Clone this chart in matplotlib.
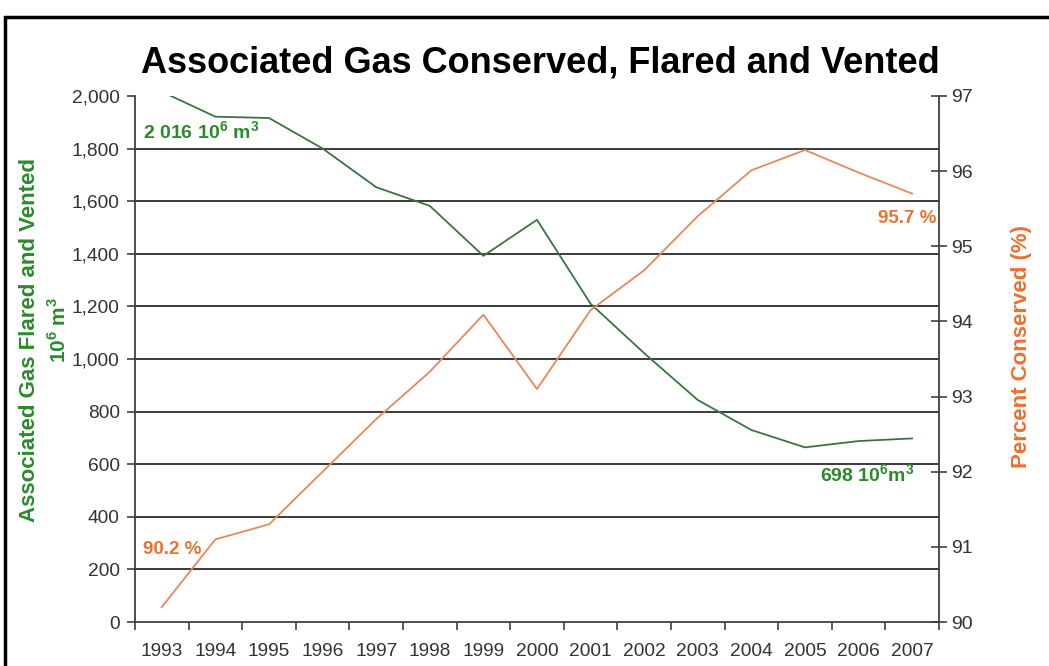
import matplotlib.pyplot as plt
from matplotlib.patches import Rectangle

plt.rcParams['font.family'] = ['Liberation Sans', 'DejaVu Sans']
plt.rcParams['mathtext.fontset'] = 'custom'
plt.rcParams['mathtext.rm'] = 'Liberation Sans'
plt.rcParams['mathtext.bf'] = 'Liberation Sans:bold'

# Annual figures
years = ['1993', '1994', '1995', '1996', '1997', '1998', '1999', '2000',
         '2001', '2002', '2003', '2004', '2005', '2006', '2007']
flared_vented = [2016, 1921, 1916, 1800, 1653, 1582, 1392, 1529,
                 1210, 1022, 844, 730, 664, 688, 698]
pct_conserved = [90.2, 91.1, 91.3, 92.0, 92.7, 93.33, 94.09, 93.1,
                 94.15, 94.68, 95.4, 96.01, 96.28, 95.98, 95.7]

GREEN_LINE = '#3a7440'
GREEN_TEXT = '#2a8a2a'
ORANGE_LINE = '#e8875a'
ORANGE_TEXT = '#ec7030'
AXIS = '#404040'
TICK_TXT = '#333333'

fig = plt.figure(figsize=(10.49, 6.66), dpi=100)
fig.patch.set_facecolor('white')
ax = fig.add_axes([0.1287, 0.066, 0.7664, 0.790])
ax2 = ax.twinx()

x = list(range(len(years)))

# left axis: gas flared and vented
ax.set_xlim(-0.5, len(years) - 0.5)
ax.set_ylim(0, 2000)
left_ticks = list(range(0, 2001, 200))
ax.set_yticks(left_ticks)
ax.set_yticklabels([f'{v:,}' for v in left_ticks])
for v in left_ticks[1:-1]:
    ax.axhline(v, color='#2b2b2b', lw=1.3, zorder=1)
ax.plot(x, flared_vented, color=GREEN_LINE, lw=1.3, zorder=3)

# category boundaries carry the tick marks, labels sit at centres
ax.set_xticks([i - 0.5 for i in range(len(years) + 1)])
ax.set_xticklabels([])
ax.set_xticks(x, minor=True)
ax.set_xticklabels(years, minor=True)
ax.tick_params(axis='x', which='major', direction='out', length=6, width=1.2, color=AXIS)
ax.tick_params(axis='x', which='minor', length=0, pad=15, labelsize=13.8, labelcolor=TICK_TXT)
ax.tick_params(axis='y', direction='out', length=6, width=1.2, color=AXIS,
               labelsize=13.8, labelcolor=TICK_TXT, pad=5)

ax.spines['top'].set_visible(False)
ax2.spines['top'].set_visible(False)
for sp in ['left', 'bottom']:
    ax.spines[sp].set_color(AXIS)
    ax.spines[sp].set_linewidth(1.3)
ax.spines['right'].set_visible(False)
ax2.spines['left'].set_visible(False)
ax2.spines['bottom'].set_visible(False)
ax2.spines['right'].set_color(AXIS)
ax2.spines['right'].set_linewidth(1.3)

# right axis: percent conserved
ax2.set_ylim(90, 97)
ax2.set_yticks(range(90, 98))
ax2.tick_params(axis='y', direction='inout', length=12, width=1.2, color=AXIS,
                labelsize=14, labelcolor=TICK_TXT, pad=3)
ax2.plot(x, pct_conserved, color=ORANGE_LINE, lw=1.3, zorder=3)

# end-point annotations
ax.text(-0.35, 1820, f'{flared_vented[0]:,}'.replace(',', ' ') + r' 10$^{\mathbf{6}}$ m$^{\mathbf{3}}$',
        color=GREEN_TEXT, fontsize=14, fontweight='bold', ha='left', va='bottom')
ax.text(14.05, 515, f'{flared_vented[-1]} 10' + r'$^{\mathbf{6}}$m$^{\mathbf{3}}$',
        color=GREEN_TEXT, fontsize=14, fontweight='bold', ha='right', va='bottom')
ax2.text(-0.35, 90.85, f'{pct_conserved[0]} %', color=ORANGE_TEXT, fontsize=13.5,
         fontweight='bold', ha='left', va='bottom')
ax2.text(14.46, 95.25, f'{pct_conserved[-1]} %', color=ORANGE_TEXT, fontsize=13.5,
         fontweight='bold', ha='right', va='bottom')

# titles and axis labels
fig.text(0.515, 0.905, 'Associated Gas Conserved, Flared and Vented',
         fontsize=26, fontweight='bold', ha='center', va='center', color='black')
fig.text(0.028, 0.49, 'Associated Gas Flared and Vented', rotation=90,
         color=GREEN_TEXT, fontsize=16, fontweight='bold', ha='center', va='center')
fig.text(0.056, 0.505, r'10$^{\mathbf{6}}$ m$^{\mathbf{3}}$', rotation=90,
         color=GREEN_TEXT, fontsize=15, fontweight='bold', ha='center', va='center')
fig.text(0.974, 0.48, 'Percent Conserved (%)', rotation=90,
         color=ORANGE_TEXT, fontsize=16, fontweight='bold', ha='center', va='center')

# outer frame
fig.patches.append(Rectangle((0.005, -0.05), 1.1, 1.0245, transform=fig.transFigure,
                             fill=False, edgecolor='black', lw=2.5))

fig.savefig('out.png', dpi=100)
